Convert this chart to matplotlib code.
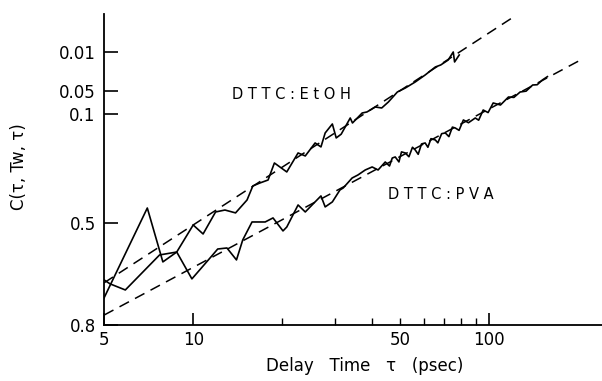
import matplotlib.pyplot as plt
from matplotlib.ticker import FixedLocator, NullLocator, FixedFormatter
import numpy as np

plt.rcParams['font.family'] = ['DejaVu Sans']

# delay time (psec) and -ln C(tau,Tw,tau)
t_etoh = [5.0, 7.0, 7.9, 8.8, 10.0, 10.8, 11.9, 12.8, 13.9, 15.2, 15.9, 16.8, 17.9, 18.8,
          20.7, 22.6, 23.9, 25.8, 27.0, 27.9, 29.5, 30.4, 31.6, 33.9, 34.5, 37.2, 38.6,
          41.2, 43.3, 45.6, 48.9, 52.0, 56.2, 60.7, 65.7, 68.5, 72.6, 75.5, 76.3, 79.1]
v_etoh = [0.301, 0.816, 0.449, 0.501, 0.676, 0.612, 0.781, 0.798, 0.773, 0.892, 1.042,
          1.077, 1.113, 1.344, 1.217, 1.502, 1.453, 1.678, 1.606, 1.875, 2.071, 1.774,
          1.85, 2.213, 2.094, 2.339, 2.366, 2.500, 2.473, 2.642, 2.952, 3.085, 3.299,
          3.565, 3.895, 3.983, 4.209, 4.60, 4.118, 4.45]

t_pva = [5.0, 5.24, 5.9, 7.7, 8.8, 9.9, 11.4, 12.1, 13.0, 14.0, 14.7, 15.8, 17.5, 18.6,
         20.1, 20.7, 22.6, 23.9, 25.2, 27.0, 27.9, 29.5, 31.3, 32.1, 34.4, 36.0, 38.1,
         40.2, 42.1, 44.5, 46.0, 47.0, 48.1, 49.5, 50.5, 52.0, 53.5, 55.0, 56.2, 57.5,
         59.0, 60.7, 62.0, 63.5, 65.7, 67.0, 69.0, 71.0, 73.0, 75.0, 76.7, 79.0, 81.7,
         85.0, 89.6, 92.0, 95.3, 99.0, 103, 109, 116, 121, 127, 133, 140, 145, 151, 157]
v_pva = [0.368, 0.352, 0.329, 0.485, 0.501, 0.372, 0.469, 0.518, 0.524, 0.459, 0.573,
         0.699, 0.699, 0.731, 0.633, 0.661, 0.844, 0.781, 0.844, 0.933, 0.826, 0.873,
         0.997, 1.019, 1.138, 1.177, 1.244, 1.286, 1.244, 1.359, 1.30, 1.42, 1.437, 1.36,
         1.52, 1.502, 1.44, 1.60, 1.552, 1.48, 1.66, 1.678, 1.60, 1.76, 1.734, 1.68, 1.86,
         1.875, 1.80, 2.0, 1.981, 1.93, 2.165, 2.10, 2.213, 2.16, 2.418, 2.35, 2.614,
         2.556, 2.793, 2.78, 2.952, 2.98, 3.19, 3.20, 3.373, 3.50]

# fitted straight lines (end points)
fit_etoh_t = [5, 122]
fit_etoh_v = [0.356, 6.85]
fit_pva_t = [5, 200]
fit_pva_v = [0.249, 4.16]

c_ticks = [0.01, 0.05, 0.1, 0.5, 0.8]
x_major = [5, 10, 100]
x_minor = [20, 30, 40, 50, 60, 70, 80, 90]

fig = plt.figure(figsize=(6.02, 3.81), dpi=100)
ax = fig.add_axes([0.1728, 0.147, 0.8272, 0.816])

ax.plot(t_etoh, v_etoh, color='black', lw=1.2)
ax.plot(t_pva, v_pva, color='black', lw=1.2)
ax.plot(fit_etoh_t, fit_etoh_v, color='black', lw=1.1, dashes=(7, 4.5))
ax.plot(fit_pva_t, fit_pva_v, color='black', lw=1.1, dashes=(7, 4.5))

ax.set_xscale('log')
ax.set_yscale('log')
ax.set_xlim(5, 240)
ax.set_ylim(-np.log(0.8), 7.0)

for s in ['top', 'right']:
    ax.spines[s].set_visible(False)
for s in ['left', 'bottom']:
    ax.spines[s].set_linewidth(1.3)

ax.yaxis.set_major_locator(FixedLocator(-np.log(c_ticks)))
ax.yaxis.set_major_formatter(FixedFormatter([str(c) for c in c_ticks]))
ax.yaxis.set_minor_locator(NullLocator())
ax.tick_params(axis='y', direction='in', length=10, width=1.2, labelsize=12, pad=6)

ax.xaxis.set_major_locator(FixedLocator(x_major))
ax.xaxis.set_major_formatter(FixedFormatter(['5', '10', '100']))
ax.xaxis.set_minor_locator(FixedLocator(x_minor))
ax.xaxis.set_minor_formatter(FixedFormatter(['', '', '', '50', '', '', '', '']))
ax.tick_params(axis='x', which='major', direction='in', length=9, width=1.2, labelsize=12, pad=4)
ax.tick_params(axis='x', which='minor', direction='in', length=5, width=1.0, labelsize=12, pad=4)

ax.text(13.5, 2.86, 'D T T C : E t O H', fontsize=10.5, ha='left', va='center')
ax.text(45.6, 0.943, 'D T T C : P V A', fontsize=10.5, ha='left', va='center')

ax.set_ylabel('C(τ, Tw, τ)', fontsize=12)
ax.yaxis.set_label_coords(-0.153, 0.511)
ax.set_xlabel('Delay   Time   τ   (psec)', fontsize=12)
ax.xaxis.set_label_coords(0.524, -0.103)

fig.savefig('out.png', dpi=100)
